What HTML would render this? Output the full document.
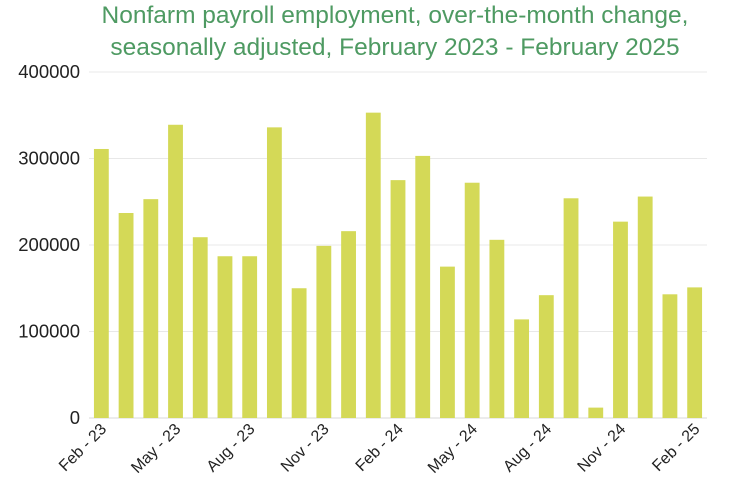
<!DOCTYPE html>
<html><head><meta charset="utf-8"><style>
body{margin:0;background:#fff;width:739px;height:490px;overflow:hidden;font-family:"Liberation Sans",sans-serif}
</style></head><body>
<svg width="739" height="490">
<text x="395" y="23" text-anchor="middle" font-size="24.5" fill="#4e9a62">Nonfarm payroll employment, over-the-month change,</text>
<text x="395" y="55" text-anchor="middle" font-size="24.5" fill="#4e9a62">seasonally adjusted, February 2023 - February 2025</text>
<g id="grid"></g><g id="bars"></g><g id="xl"></g>
</svg>
<script>
const categories=["Feb - 23","Mar - 23","Apr - 23","May - 23","Jun - 23","Jul - 23","Aug - 23","Sep - 23","Oct - 23","Nov - 23","Dec - 23","Jan - 24","Feb - 24","Mar - 24","Apr - 24","May - 24","Jun - 24","Jul - 24","Aug - 24","Sep - 24","Oct - 24","Nov - 24","Dec - 24","Jan - 25","Feb - 25"];
const values=[311000,237000,253000,339000,209000,187000,187000,336000,150000,199000,216000,353000,275000,303000,175000,272000,206000,114000,142000,254000,12000,227000,256000,143000,151000];
const yTicks=[0,100000,200000,300000,400000];
const ns="http://www.w3.org/2000/svg";
const x0=89,x1=707,yTop=72,yBot=418,yMax=400000;
const y=v=>yBot-(v/yMax)*(yBot-yTop);
const step=(x1-x0)/categories.length;
const xc=i=>x0+step*(i+0.5);
function mk(t,a,p){const e=document.createElementNS(ns,t);for(const k in a)e.setAttribute(k,a[k]);p.appendChild(e);return e;}
const g=document.getElementById('grid');
yTicks.forEach(v=>{
 const l=mk('line',{x1:x0,x2:x1,y1:y(v),y2:y(v),stroke:v===0?'#d9d9d9':'#e8e8e8','stroke-width':1},g);
 
 
 const t=mk('text',{x:80,y:y(v)+6,'text-anchor':'end','font-size':18.5,fill:'#222'},g);
 t.textContent=v;
 
 
});
const b=document.getElementById('bars');
const bw=step*0.6;
values.forEach((v,i)=>{
 const r=mk('rect',{x:xc(i)-bw/2,y:y(v),width:bw,height:yBot-y(v),fill:'#d4d957'},b);
 
 
});
const xl=document.getElementById('xl');
categories.forEach((c,i)=>{
 if(i%3!==0)return;
 const X=xc(i)+6,Y=430;
 const t=mk('text',{x:X,y:Y,'text-anchor':'end','font-size':16,fill:'#222',transform:`rotate(-45 ${X} ${Y})`},xl);
 t.textContent=c;
 
 
});
</script>
</body></html>
